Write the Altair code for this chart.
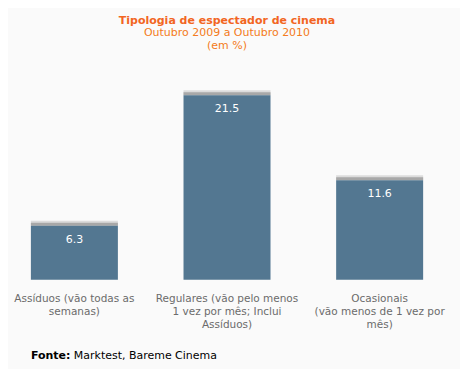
import altair as alt
import pandas as pd

categories = ["Assíduos (vão todas as|semanas)",
              "Regulares (vão pelo menos|1 vez por mês; Inclui|Assíduos)",
              "Ocasionais|(vão menos de 1 vez por|mês)"]
values = [6.3, 21.5, 11.6]
labels = ["6.3", "21.5", "11.6"]

df = pd.DataFrame({"cat": categories, "val": values, "lab": labels})
FONT = "DejaVu Sans"

x = alt.X("cat:N", sort=categories, title=None,
          scale=alt.Scale(paddingInner=0.43, paddingOuter=0.15),
          axis=alt.Axis(labelAngle=0, labelExpr="split(datum.label, '|')",
                        labelLineHeight=13, labelFontSize=10.5, labelFont=FONT,
                        labelColor="#6b6b6b", domain=False, ticks=False,
                        labelPadding=14, labelBaseline="top"))
y = alt.Y("val:Q", title=None, scale=alt.Scale(domain=[0, 25], nice=False), axis=None)

base = alt.Chart(df)

shadow1 = base.mark_bar(color="#dcdcdc", yOffset=-5, y2Offset=0).encode(x=x, y=y, y2="val:Q")
shadow2 = base.mark_bar(color="#a8a8a8", yOffset=-3, y2Offset=0).encode(x=x, y=y, y2="val:Q")
bars = base.mark_bar(color="#537791").encode(x=x, y=y)
txt = base.mark_text(color="white", dy=14, fontSize=11, font=FONT, baseline="middle").encode(
    x=x, y=y, text="lab:N")

foot_df = pd.DataFrame({"a": ["Fonte:"], "b": ["Marktest, Bareme Cinema"]})
foot1 = alt.Chart(foot_df).mark_text(align="left", baseline="middle", fontWeight="bold",
                                      fontSize=11, font=FONT, color="#000000").encode(
    x=alt.value(23), y=alt.value(291), text="a:N")
foot2 = alt.Chart(foot_df).mark_text(align="left", baseline="middle",
                                      fontSize=11, font=FONT, color="#000000").encode(
    x=alt.value(66), y=alt.value(291), text="b:N")

chart = alt.layer(shadow1, shadow2, bars, txt, foot1, foot2).properties(
    width=439, height=215,
    autosize=alt.AutoSizeParams(type="none"),
    padding={"left": 0, "top": 57, "right": 14, "bottom": 100},
    background="#fafafa",
    title=alt.TitleParams(
        text="Tipologia de espectador de cinema",
        subtitle=["Outubro 2009 a Outubro 2010", "(em %)"],
        anchor="middle", font=FONT, fontSize=11, fontWeight="bold", color="#f26522",
        subtitleFont=FONT, subtitleFontSize=11, subtitleColor="#f47b20",
        subtitleLineHeight=13, subtitlePadding=1, offset=14),
).configure_view(stroke=None)

chart.save("out.html", embed_options={"renderer": "svg", "actions": False})
